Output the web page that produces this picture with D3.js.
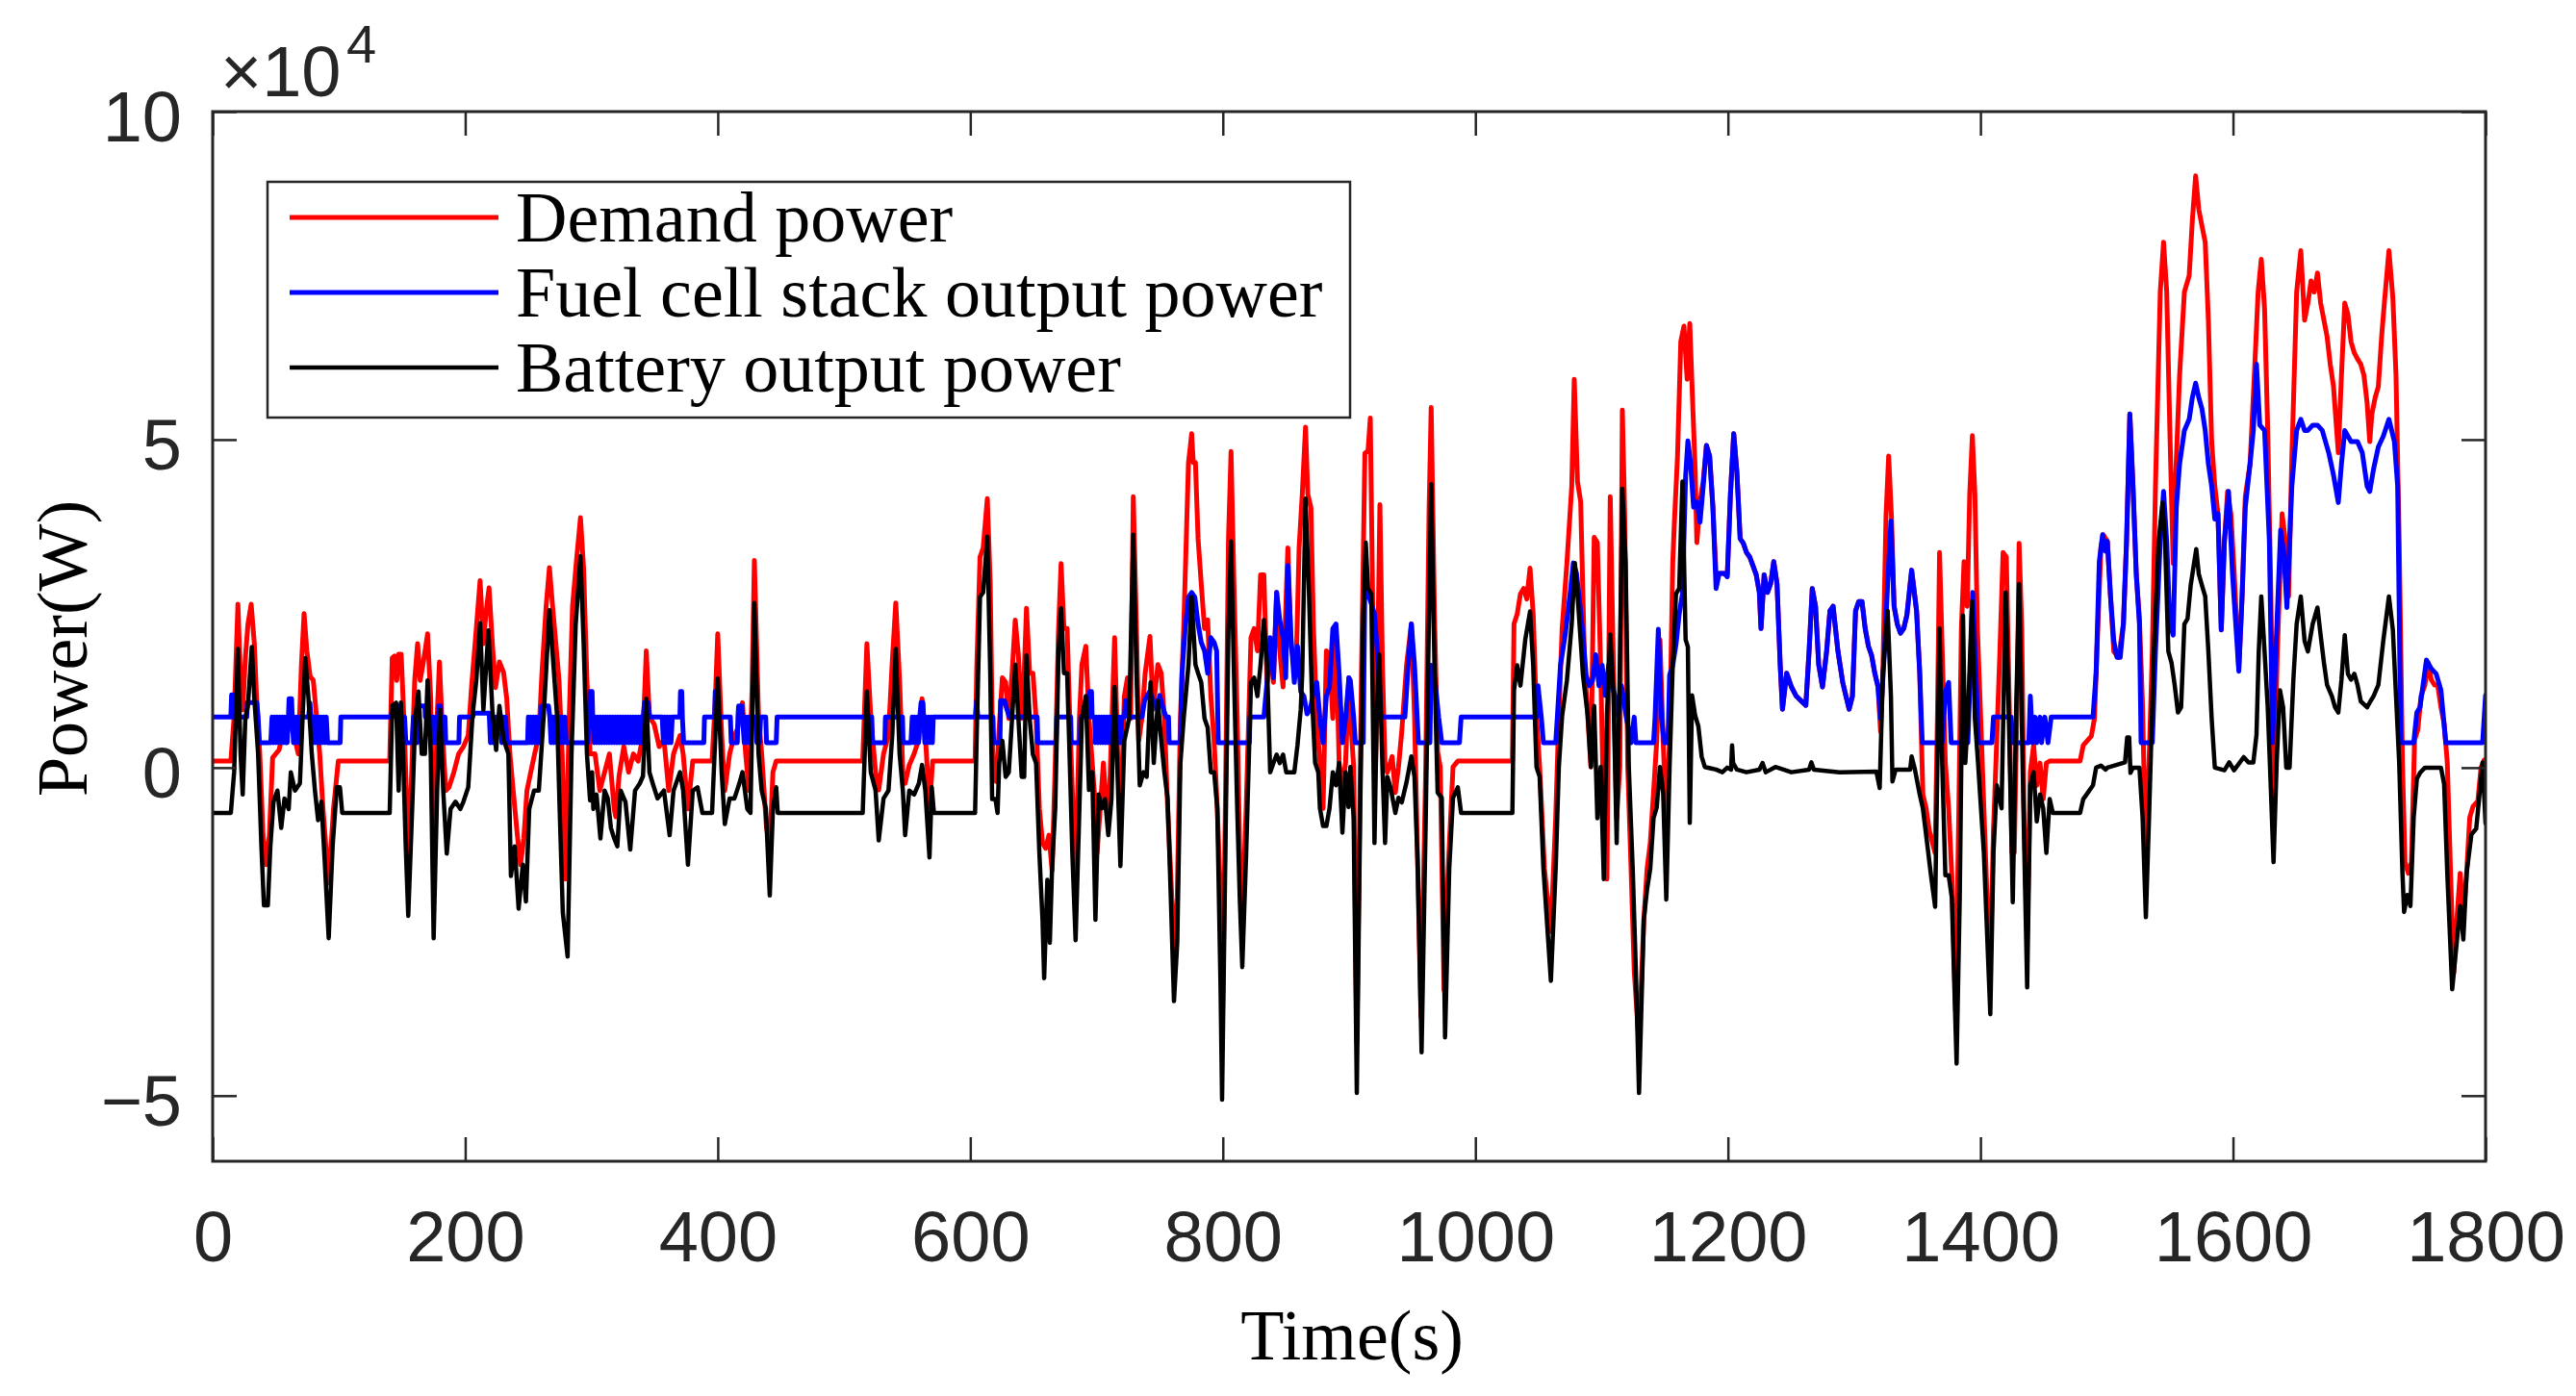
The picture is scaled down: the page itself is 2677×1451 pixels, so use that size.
<!DOCTYPE html>
<html><head><meta charset="utf-8">
<script src="https://cdn.jsdelivr.net/npm/d3@7"></script>
<style>html,body{margin:0;padding:0;background:#fff;} svg{display:block;}</style>
</head><body>
<svg id="chart" width="2677" height="1451"></svg>
<script>
// ---------- data (time in s, power in x10^4 W) ----------
const xTicks = [0,200,400,600,800,1000,1200,1400,1600,1800];
const yTicks = [-5,0,5,10];
const xDomain = [0,1800];
const yDomain = [-6,10];
const seriesNames = ["Demand power","Fuel cell stack output power","Battery output power"];
const seriesColors = ["#ff0000","#0000ff","#000000"];

const demandPower = [
[0,0.1],[14.4,0.1],[17,0.77],[20,2.49],[22.1,1.33],[23.8,0.88],[25.9,1.67],[27.9,2.18],[30.5,2.49],[33,1.89],[34.8,1.05],[37.3,0.21],[39.9,-1.03],[42.4,-1.48],[44.9,-1.03],[47.5,0.15],[50,0.21],[52.6,0.27],[55.1,0.49],[57.6,0.43],[60.2,0.6],[62.7,0.72],[65.2,0.43],[67.8,0.21],[70.3,1.56],[72.4,2.35],[74.6,1.78],[77.2,1.39],[79.7,1.33],[82.3,0.77],[84.8,0.21],[87.4,-0.63],[91.9,-1.76],[95.7,-0.63],[99.5,0.1],[140.2,0.1],[142.2,1.67],[144,1.7],[145.8,1.33],[147.3,1.73],[149.3,1.73],[151.4,0.77],[153.4,-0.35],[155.4,-1.4],[158,0.15],[160,1.33],[162.3,1.89],[164.3,1.33],[166.9,1.61],[170.2,2.04],[172.7,1.05],[175,-1.8],[177.8,0.77],[179.6,1.61],[182.1,0.49],[184.6,-0.35],[187.2,-0.3],[191,-0.07],[194.8,0.21],[198.6,0.32],[202.4,0.49],[205,1.22],[208.3,2.0],[211.8,2.85],[214.4,1.89],[216.4,2.35],[218.9,2.74],[221.5,1.89],[224,1.22],[227.1,1.61],[230.4,1.45],[232.9,1.05],[235.4,0.21],[238,-0.35],[241.3,-1.03],[243.8,-1.48],[246.4,-1.08],[248.9,-0.35],[251.9,-0.07],[255,0.21],[258.3,0.49],[260.8,1.45],[264.1,2.46],[266.7,3.05],[269.2,2.46],[271.8,1.89],[274.3,1.33],[276.8,0.21],[279.4,-1.7],[282.4,0.77],[285,2.46],[288,3.13],[291.3,3.81],[293.8,3.02],[296.4,1.33],[298.9,0.21],
[302.8,0.21],[306.6,-0.35],[310.4,-0.07],[314.2,0.21],[318,-0.63],[319.3,-0.75],[321.8,-0.13],[325.6,0.32],[329.4,-0.07],[333.2,0.21],[337,0.1],[340.8,0.49],[343.4,1.78],[345.9,0.77],[349.7,0.66],[353.6,0.32],[357.4,0.43],[361.2,-0.35],[365,0.21],[370.1,0.49],[372.6,0.21],[376.4,-0.63],[380.2,0.1],[395.5,0.1],[398,1.0],[400,2.04],[403.1,0.49],[405.6,-0.35],[409.4,0.21],[413.2,0.49],[415.8,0.6],[419.6,0.99],[422.1,0.21],[424.7,-0.35],[427.2,1.2],[429,3.16],[432.3,0.77],[434.8,0.21],[438.6,-0.92],[441.2,-1.2],[443.7,-0.07],[446.3,0.1],[514.8,0.1],[516.1,0.8],[518.1,1.89],[521.2,0.77],[525,-0.07],[527.5,-0.34],[531.3,0.21],[535.2,0.49],[538.2,1.61],[541,2.51],[544,1.33],[546.6,-0.07],[548.4,-0.24],[551.7,0.04],[555.5,0.21],[559.3,0.43],[561.8,1.05],[564.4,0.49],[567.7,-0.6],[570.2,0.1],[603.8,0.1],
[605.1,1.5],[607.7,3.21],[610.2,3.35],[613.5,4.10],[615.8,2.80],[617.8,0.07],[620.4,-0.21],[622.9,0.61],[625.4,1.37],[628,1.30],[630.5,0.75],[633.1,1.44],[635.6,2.25],[638.1,1.71],[640.7,0.75],[642.7,1.44],[644.5,2.43],[647,1.44],[649.6,1.44],[652.1,0.75],[654.7,-0.62],[657.2,-1.15],[659.7,-1.23],[662.3,-1.03],[664.8,-1.57],[667.3,0.07],[669.9,2.12],[671.9,3.11],[674.2,2.12],[676.7,2.12],[678.8,0.75],[681.3,-0.62],[683.4,-1.8],[686.4,0.75],[688.4,1.57],[691.5,1.85],[694,0.75],[696.6,0.07],[699.1,-0.62],[700.4,-1.3],[702.9,-0.62],[705.4,0.07],[708,-0.62],[710.5,-0.27],[714.3,1.98],[716.9,0.07],[718.9,-0.96],[722,1.09],[724.5,1.37],[727,0.75],[729.1,4.13],[731.6,2.12],[733.4,0.41],[735.9,0.75],[738.5,1.44],[742.3,2.0],[744.8,0.89],[748.6,1.57],[751.2,1.44],[753.7,0.75],[756.3,-0.62],[758.8,-1.64],[761.3,-2.8],[763.9,-1.98],[766.4,0.75],[769,2.12],[772.8,4.65],[774,4.85],[775.3,5.09],[776.6,4.65],[778.3,4.65],[780.4,3.49],[782.9,2.80],[785.5,2.12],[788,2.25],[790.5,1.09],[793.1,0.41],[795.6,-0.62],[798.2,-2.0],[799.4,-4.3],[802,-0.62],[804.5,3.49],[806.5,4.82],[808.8,2.80],[811.4,0.75],[813.4,-1.30],[815.4,-2.3],[818.5,-0.62],[822.3,1.98],[824.8,2.12],[827.4,1.78],[829.9,2.94],[832.5,2.94],[835,1.30],[837.5,1.78],[840.1,1.30],[842.6,2.67],[845.1,1.78],[847.7,1.23],[851.5,3.35],[854,1.85],[857.9,1.44],[860.4,3.35],[862.9,4.17],[865.5,5.19],[867.3,4.17],[869.8,3.96],[871.8,2.12],[874.4,0.75],[876.9,0.07],[879.4,-0.62],[882,1.78],[884.5,1.71],[887.1,0.75],[889.6,2.12],[892.1,0.07],[894.7,-0.27],[897.2,0.07],[899.8,1.37],[901,0.79],
[903.6,0.01],[906.1,-4.2],[909.9,1.56],[912.5,4.79],[915,4.83],[916.8,5.33],[918.8,2.34],[920.9,0.01],[922.6,1.56],[924.4,4.01],[926.4,1.56],[928.5,0.01],[930.3,-0.07],[934.1,0.17],[936.6,-0.38],[939.1,0.01],[941.7,0.55],[945.5,1.56],[949.3,2.19],[951.8,0.79],[954.4,-1.54],[956.9,-3.8],[960.7,0.01],[963.3,3.9],[965,5.49],[967.6,2.34],[970.1,0.24],[972.2,0.01],[975.2,-3.4],[978.5,-1.54],[982.3,0.01],[986.1,0.1],[1029.3,0.1],[1030.6,2.19],[1033.1,2.34],[1035.7,2.65],[1038.2,2.73],[1040.7,2.57],[1043.3,3.04],[1045.8,2.34],[1048.4,0.79],[1050.9,0.01],[1054.7,-1.54],[1059.8,-2.5],[1063.6,-0.77],[1066.1,0.79],[1068.7,2.11],[1072.5,3.12],[1076.3,4.28],[1078.3,5.92],[1080.9,4.36],[1083.4,4.05],[1086.5,1.56],[1089,0.79],[1091.5,0.01],[1094.1,3.51],[1096.6,3.43],[1099.2,1.56],[1101.7,-0.77],[1104.2,-1.7],[1106.8,4.13],[1109.3,1.56],[1111.9,-0.77],[1114.4,0.01],[1116.4,5.45],[1118.2,3.9],[1120.7,0.01],[1123.3,-1.54],[1125.8,-3.1],[1129.6,-4.2],[1133.4,-2.32],[1136,-1.54],[1138.5,-1.15],[1141.1,-0.38],[1143.6,0.4],[1146.2,1.95],[1148.7,0.4],[1151.2,-0.77],[1153.8,0.4],[1156.3,3.12],[1157.6,3.74],[1160.1,4.75],[1162.7,6.5],[1165.2,6.73],[1167.7,5.92],[1169.8,6.77],[1172.3,5.45],[1174.1,4.52],[1175.4,3.43],[1177.9,4.05],[1180.4,4.36],[1183,4.91],[1185.5,4.75],[1188.1,3.97],[1190.6,2.96],[1193.1,2.96],[1197,2.96],[1199.5,2.94],
[1202,4.17],[1204.6,5.09],[1207.1,4.51],[1209.7,3.49],[1212.2,3.42],[1214.7,3.28],[1217.3,3.21],[1219.8,3.08],[1222.4,2.94],[1224.9,2.67],[1226.2,2.12],[1228.7,2.94],[1231.3,2.67],[1233.8,2.80],[1236.3,3.14],[1238.9,2.80],[1241.4,1.57],[1243.2,0.89],[1246.5,1.44],[1250.3,1.23],[1254.1,1.09],[1257.9,1.02],[1261.7,0.95],[1264.3,1.78],[1266.8,2.73],[1269.4,2.46],[1271.9,1.57],[1274.9,1.23],[1278.2,1.78],[1280.8,2.39],[1283.3,2.46],[1287.1,1.78],[1290.9,1.30],[1293.5,1.09],[1296,0.89],[1298.6,1.09],[1301.1,2.39],[1303.6,2.53],[1306.2,2.53],[1308.7,2.12],[1311.3,1.85],[1313.8,1.71],[1316.3,1.44],[1318.9,1.23],[1320.9,0.55],[1322.7,1.44],[1325.2,3.83],[1327.3,4.75],[1329.5,3.83],[1331.6,2.46],[1334.1,2.19],[1336.7,2.05],[1339.2,2.12],[1341.7,2.32],[1345.5,3.01],[1349.4,2.39],[1351.9,1.44],[1354.4,-0.41],[1357,-0.62],[1359.5,-0.96],[1364.1,-1.3],[1365.9,0.75],[1367.6,3.28],[1370.2,1.44],[1372.2,0.07],[1374.8,-0.62],[1377.3,-1.64],[1380.3,-3.7],[1382.9,-0.62],[1384.9,2.12],[1387,3.14],[1389.5,2.46],[1391.5,4.17],[1393.6,5.06],[1395.6,4.17],[1397.6,2.12],[1400.2,0.75],[1402.7,-0.62],[1405.2,-1.98],[1407.8,-3.0],[1410.3,-0.96],[1412.9,0.41],[1415.4,1.78],[1417.9,3.28],[1420.5,3.21],[1423,0.75],[1425,-1.3],[1426.8,-1.3],[1429.4,1.44],[1430.6,3.42],[1432.7,2.12],[1434.4,-0.62],[1437,-2.6],[1439.5,-0.07],[1442.1,0.34],[1444.6,-0.27],[1447.2,0.07],[1449.7,-0.48],[1452.2,0.07],[1454.8,0.1],[1478.9,0.1],[1481.4,0.34],[1487.8,0.48],[1490.3,0.75],[1492.9,2.12],[1495.4,3.35],[1497.2,3.55],
[1500.5,3.45],[1503,2.61],[1505.6,1.77],[1509.4,1.68],[1513.2,2.19],[1515.7,3.45],[1518.3,5.39],[1520.8,4.29],[1523.4,2.95],[1525.9,2.27],[1528.4,0.92],[1531,-1.44],[1533.5,0.08],[1536.1,1.77],[1538.6,4.29],[1542.4,7.25],[1545,8.01],[1547.5,7.25],[1550,5.14],[1552.6,3.11],[1554.3,4.29],[1557.7,5.98],[1561.5,7.25],[1565.3,7.5],[1567.8,8.34],[1570.4,9.02],[1572.9,8.51],[1575.4,8.26],[1578,8.01],[1580.5,6.82],[1583.1,4.97],[1585.6,4.29],[1588.1,3.87],[1590.7,2.10],[1593.2,3.45],[1595.7,4.21],[1598.3,3.87],[1600.8,3.03],[1604.6,1.51],[1607.2,2.61],[1609.7,4.13],[1613.5,4.63],[1617.3,6.15],[1619.9,7.25],[1622.4,7.75],[1625,7.0],[1627.5,5.14],[1630,2.61],[1632.1,-0.6],[1635.1,1.77],[1638.9,3.87],[1641.5,3.45],[1644,2.61],[1646.6,4.72],[1650.4,7.25],[1653.7,7.88],[1656.7,6.82],[1659.3,7.08],[1661.8,7.42],[1664.3,7.25],[1666.9,7.54],[1669.4,7.08],[1672,6.82],[1674.5,6.57],[1677,6.15],[1679.6,5.81],[1682.1,5.14],[1683.4,4.8],[1685.9,5.98],[1688.5,7.08],[1691,6.91],[1693.5,6.49],[1696.1,6.32],[1698.6,6.23],[1701.2,6.15],[1703.7,5.98],[1706.2,5.56],[1708.3,4.97],[1710,5.39],[1712.6,5.64],[1715.1,5.81],[1717.7,6.57],[1720.2,7.16],[1723.5,7.88],[1726.6,7.16],[1729.1,5.98],[1731.6,3.45],[1734.2,0.08],[1736.2,-1.44],[1738.8,-1.61],[1741.3,-1.44],[1743.8,0.42],[1746.4,0.58],[1748.9,1.09],[1752,1.26],[1754.5,1.60],[1757,1.34],[1759.6,1.26],[1762.1,1.26],[1764.7,0.92],[1767.2,0.67],[1769.7,0.08],[1772.3,-1.61],[1774.8,-3.13],[1777.4,-2.28],[1779.9,-1.61],[1782.4,-2.28],[1785,-1.61],[1787.5,-0.76],[1790.1,-0.59],[1793.9,-0.51],[1796.4,0.0],[1799,0.12],[1800,0.12]
];

const fuelCellPower = [
[0,0.77],[14.4,0.77],[15,1.11],[16.5,1.11],[17,0.77],[27,0.77],[27.5,0.99],[35,0.99],[36,0.77],[37,0.38],[46,0.38],[47,0.77],[48,0.38],[49,0.77],[50,0.38],[51,0.77],[52,0.38],[53,0.77],[54,0.38],[55,0.77],[56,0.38],[57,0.77],[58,0.38],[59,0.38],[60,0.77],[60.5,1.05],[62.5,1.05],[63,0.77],[64,0.38],[65,0.77],[66,0.38],[67,0.77],[68,0.38],[69,0.77],[76,0.77],[77,0.99],[78,0.77],[79,0.38],[80,0.77],[81,0.38],[82,0.77],[83,0.38],[84,0.77],[85,0.38],[86,0.77],[87,0.38],[88,0.77],[89,0.38],[90,0.77],[91,0.38],[101,0.38],[101.5,0.77],[141.5,0.77],[142.5,0.94],[144,0.94],[144.5,0.77],[146,0.77],[146.5,0.94],[148,0.94],[149,0.38],[150,0.77],[151,0.38],[152,0.77],[153,0.38],[158,0.38],[159,0.77],[160,0.38],[161,0.77],[162,0.38],[163,0.77],[163.5,0.94],[168,0.94],[168.5,0.77],[173,0.77],[174,0.38],[175,0.77],[176,0.38],[177,0.77],[178,0.38],[179,0.94],[180.5,0.94],[181,0.38],[182,0.77],[183,0.38],[184,0.77],[184.6,0.38],[195,0.38],[195.5,0.77],[206,0.77],[206.5,0.83],[219,0.83],[220,0.38],[221,0.77],[222,0.38],[223,0.77],[224,0.38],[225,0.77],[228,0.77],[229,0.38],[230,0.77],[231,0.38],[232,0.77],[233,0.38],[249.4,0.38],[250,0.77],[251,0.38],[252,0.77],[253,0.38],[254,0.77],[255,0.38],[256,0.77],[257,0.38],[258,0.77],[259,0.38],[260,0.77],[260.5,0.94],[266,0.94],[267,0.77],[268,0.38],[269,0.77],[270,0.38],[271,0.77],[272,0.38],[273,0.77],[274,0.38],[275,0.77],[276,0.38],[277,0.77],[278,0.38],[279,0.77],[280,0.38],[297,0.38],[298,0.77],[299,1.16],[300.5,1.16],[301,0.77],
[302,0.38],[303,0.77],[304,0.38],[305,0.77],[306,0.38],[307,0.77],[308,0.38],[309,0.77],[310,0.38],[311,0.77],[312,0.38],[313,0.77],[314,0.38],[315,0.77],[316,0.38],[317,0.77],[318,0.38],[319,0.77],[320,0.38],[321,0.77],[322,0.38],[323,0.77],[324,0.38],[325,0.77],[326,0.38],[327,0.77],[328,0.38],[329,0.77],[330,0.38],[331,0.77],[332,0.38],[333,0.77],[334,0.38],[335,0.77],[336,0.38],[337,0.77],[338,0.38],[339,0.77],[340,0.38],[341,0.77],[342,0.99],[345,0.99],[346,0.77],[356,0.77],[357,0.38],[358,0.77],[359,0.38],[360,0.77],[361,0.38],[362,0.77],[363,0.38],[364,0.77],[370,0.77],[370.5,1.16],[371.5,1.16],[372,0.77],[373,0.38],[389,0.38],[389.5,0.77],[397.5,0.77],[398,1.16],[399.5,1.16],[400,0.77],[410,0.77],[410.7,0.38],[415.5,0.38],[416,0.77],[416.5,0.94],[419,0.94],[419.6,0.77],[421,0.38],[422,0.77],[423,0.38],[424,0.77],[425,0.38],[426,0.77],[430,0.77],[431,0.38],[432,0.77],[433,0.38],[434,0.77],[438,0.77],[438.6,0.38],[446.3,0.38],[447,0.77],[522,0.77],[522.5,0.38],[532.3,0.38],[532.8,0.77],[546.3,0.77],[546.8,0.38],[553,0.38],[554,0.77],[555,0.38],[556,0.77],[557,0.38],[558,0.77],[559,0.38],[560,0.77],[561,0.99],[562.5,0.99],[563,0.77],[564,0.38],[565,0.77],[566,0.38],[567,0.77],[568,0.38],[569,0.77],[570,0.38],[570.7,0.77],[601,0.77],
[604,0.77],[605,1.02],[606,0.77],[618,0.77],[618.5,0.38],[623.5,0.38],[624,1.02],[627,1.02],[629,0.89],[631,0.77],[653,0.77],[653.5,0.38],[668,0.38],[668.5,0.77],[679.5,0.77],[680,0.38],[687,0.38],[687.5,0.77],[693.5,0.77],[694.5,1.16],[696,1.16],[696.5,0.77],[698.5,0.77],[699,0.38],[700,0.77],[701,0.38],[702,0.77],[703,0.38],[704,0.77],[705,0.38],[706,0.77],[707,0.38],[708,0.77],[709,0.38],[710,0.77],[711,0.38],[712,0.77],[713,0.38],[714,0.77],[715,0.38],[716,0.77],[717,0.38],[718,0.77],[719,0.38],[720,0.77],[722,0.77],[723,1.02],[725,1.02],[725.5,0.77],[736,0.77],[738,1.02],[742,1.16],[745,1.02],[748,0.89],[750,1.10],[753,0.89],[755,0.77],[757,0.77],[757.5,0.38],[766.4,0.38],[767.7,1.44],[770.2,2.12],[772.8,2.60],[775.3,2.67],[777.8,2.60],[780.4,2.19],[782.9,1.91],[785.5,1.78],[788,1.44],[790.5,1.98],[793.1,1.91],[795.1,1.78],[796.4,0.38],[821,0.38],[821.5,0.77],[832.5,0.77],[835,1.30],[837.5,1.98],[840.1,1.37],[842.6,2.67],[845.1,2.25],[847.7,1.98],[849.8,1.37],[851.5,3.08],[854,1.98],[856.6,1.30],[859.1,1.85],[861.7,1.16],[864.2,1.09],[866.7,0.82],[869.3,0.89],[871.8,1.16],[874.4,1.30],[876.9,0.75],[879.4,0.38],[882,1.09],[884.5,1.23],[887.1,2.12],[889.6,2.19],[892.1,1.44],[894.7,0.38],[897.2,0.75],[899.8,1.37],
[901,1.33],[903.6,0.77],[904.9,0.38],[911.2,0.38],[912.5,2.81],[915,2.65],[917.6,2.50],[920.1,2.34],[922.6,1.72],[925.2,0.77],[944.2,0.77],[946.8,1.56],[949.3,2.19],[951.8,1.56],[953.9,0.77],[954.9,0.38],[964,0.38],[965,1.56],[967.6,1.41],[970.9,0.77],[973.4,0.38],[987.4,0.38],[988.7,0.77],[1048.4,0.77],[1049.6,1.25],[1052.2,0.77],[1053.9,0.38],[1063.6,0.38],[1064.9,0.77],[1067.4,1.56],[1071.2,2.03],[1075,2.65],[1077.6,3.12],[1080.1,2.96],[1082.7,2.50],[1085.2,2.03],[1087.7,1.41],[1090.3,1.25],[1092.8,1.33],[1095.3,1.72],[1097.9,1.25],[1100.4,1.56],[1103,1.10],[1105.5,1.56],[1108,1.25],[1110.6,1.10],[1113.1,0.79],[1115.7,1.25],[1119.5,0.77],[1123.3,0.38],[1125.8,0.77],[1127.1,0.38],[1141.1,0.38],[1142.3,0.77],[1144.9,2.11],[1147.4,0.77],[1149.5,0.38],[1152.5,0.38],[1153.8,1.41],[1156.3,1.56],[1158.9,1.88],[1161.4,2.34],[1164,2.65],[1166.5,4.44],[1168.3,4.98],[1170.3,4.67],[1172.8,3.97],[1175.4,4.05],[1177.9,3.74],[1180.4,4.28],[1183,4.91],[1185.5,4.75],[1188.1,3.97],[1190.6,2.73],[1193.1,2.96],[1197,2.96],[1199.5,2.91],
[1202,4.17],[1204.6,5.09],[1207.1,4.51],[1209.7,3.49],[1212.2,3.42],[1214.7,3.28],[1217.3,3.21],[1219.8,3.08],[1222.4,2.94],[1224.9,2.67],[1226.2,2.12],[1228.7,2.94],[1231.3,2.67],[1233.8,2.80],[1236.3,3.14],[1238.9,2.80],[1241.4,1.57],[1243.2,0.89],[1246.5,1.44],[1250.3,1.23],[1254.1,1.09],[1257.9,1.02],[1261.7,0.95],[1264.3,1.78],[1266.8,2.73],[1269.4,2.46],[1271.9,1.57],[1274.9,1.23],[1278.2,1.78],[1280.8,2.39],[1283.3,2.46],[1287.1,1.78],[1290.9,1.30],[1293.5,1.09],[1296,0.89],[1298.6,1.09],[1301.1,2.39],[1303.6,2.53],[1306.2,2.53],[1308.7,2.12],[1311.3,1.85],[1313.8,1.71],[1316.3,1.44],[1318.9,1.23],[1320.9,0.75],[1324,1.78],[1326.5,2.80],[1329.1,3.76],[1331.6,2.46],[1334.1,2.19],[1336.7,2.05],[1339.2,2.12],[1341.7,2.32],[1345.5,3.01],[1349.4,2.39],[1351.9,1.44],[1353.9,0.38],[1369.7,0.38],[1372.2,1.16],[1374.8,1.30],[1376.8,0.38],[1390,0.38],[1391.3,1.09],[1393.8,2.67],[1396.4,1.44],[1398.4,0.38],[1409.1,0.38],[1410.3,0.77],[1424.3,0.77],[1425.6,0.38],[1438.3,0.38],[1439.5,1.09],[1441.3,0.38],[1443.3,0.77],[1444.6,0.38],[1447.2,0.77],[1448.4,0.38],[1451,0.77],[1453.5,0.38],[1456,0.77],[1489.1,0.77],[1491.6,1.44],[1494.1,3.14],[1496.7,3.55],[1499,3.3],
[1500.5,3.45],[1503,2.61],[1505.6,1.93],[1508.1,1.68],[1510.7,1.68],[1513.2,2.19],[1515.7,3.45],[1518.3,5.39],[1520.8,4.29],[1523.4,2.95],[1525.9,2.19],[1527.2,0.38],[1536.1,0.38],[1538.6,1.77],[1542.4,3.45],[1545,4.21],[1547.5,3.45],[1550,2.19],[1552.6,2.02],[1555.1,3.96],[1557.7,4.63],[1561.5,5.14],[1565.3,5.31],[1567.8,5.64],[1570.4,5.86],[1572.9,5.64],[1575.4,5.47],[1578,5.14],[1580.5,4.63],[1583.1,4.29],[1585.6,3.79],[1588.1,3.87],[1590.7,2.10],[1593.2,3.45],[1596.5,4.21],[1599.6,2.95],[1604.6,1.47],[1607.2,2.61],[1609.7,3.96],[1613.5,4.63],[1616.1,5.14],[1618.6,6.15],[1621.2,5.22],[1625,5.14],[1628.8,3.45],[1631.3,0.38],[1633.9,1.77],[1637.7,3.62],[1640.2,3.28],[1642.7,2.44],[1646.6,4.29],[1650.4,5.14],[1653.7,5.31],[1656.7,5.14],[1659.3,5.14],[1663.1,5.22],[1666.9,5.22],[1670.7,5.14],[1675.8,4.80],[1679.6,4.46],[1683.4,4.04],[1685.9,4.63],[1688.5,5.14],[1693.5,4.97],[1698.6,4.97],[1702.4,4.80],[1706.2,4.29],[1708.3,4.21],[1711.3,4.55],[1715.1,4.89],[1719,5.05],[1723.5,5.31],[1727.8,4.97],[1730.4,4.29],[1732.9,0.38],[1743.1,0.38],[1745.6,0.84],[1748.1,0.92],[1753.2,1.64],[1757,1.51],[1760.9,1.43],[1764.7,1.18],[1768.5,0.38],[1797.7,0.38],[1800,1.1]
];

const batteryPower = [
[0,-0.69],[14.4,-0.69],[17,-0.07],[20,1.81],[22.1,0.21],[23.8,-0.41],[25.9,0.77],[27.9,0.94],[31,1.84],[33,1.05],[36,0.21],[38.6,-1.2],[40.6,-2.1],[43.7,-2.1],[45.7,-1.2],[48.2,-0.52],[51.3,-0.35],[54.3,-0.92],[56.9,-0.47],[60.2,-0.63],[61.9,-0.07],[65.2,-0.35],[69.1,-0.24],[71.6,0.94],[73.4,1.67],[75.9,1.05],[78.5,0.21],[81,-0.35],[83.5,-0.80],[86.1,-0.52],[88.9,-1.48],[91.9,-2.6],[95,-1.2],[98.3,-0.3],[100.8,-0.3],[102.6,-0.69],[140.2,-0.69],[142.2,0.94],[145.3,0.99],[147.3,-0.35],[149.1,0.99],[150.8,0.21],[152.9,-1.2],[154.9,-2.26],[158,-0.63],[160.5,0.77],[163,1.16],[165.6,0.21],[168.1,0.21],[170.2,1.33],[172.7,0.21],[175,-2.6],[177.8,-0.35],[180.1,0.88],[182.6,-0.35],[185.4,-1.31],[188.4,-0.63],[192.3,-0.52],[196.1,-0.63],[198.6,-0.52],[202.4,-0.30],[205.7,0.77],[208.8,1.33],[211.8,2.2],[214.4,0.88],[218.4,2.09],[221.5,0.88],[224.5,0.27],[227.1,0.94],[230.4,0.43],[234.2,0.21],[236.2,-1.65],[239.2,-1.2],[242.3,-2.15],[245.6,-1.48],[248.1,-2.04],[250.7,-0.63],[254.5,-0.35],[258.3,-0.35],[262.1,0.77],[266.7,2.4],[269.7,1.61],[272.8,0.77],[274.8,-0.63],[277.3,-2.21],[281.1,-2.88],[284.2,0.21],[287.5,2.18],[291.3,3.22],[293.8,1.89],[296.4,0.21],[298.9,-0.5],
[300.5,-0.07],[301.5,-0.63],[304,-0.41],[307.1,-1.08],[310.4,-0.35],[312.9,-0.47],[315.4,-0.92],[318,-1.08],[320.5,-1.2],[323.1,-0.35],[326.9,-0.52],[330.7,-1.25],[334.5,-0.35],[338.3,-0.24],[340.8,-0.13],[343.4,1.05],[345.9,-0.07],[348.5,-0.24],[352.3,-0.47],[357.4,-0.35],[361.9,-1.03],[365,-0.35],[370.1,-0.07],[372.6,-0.35],[376.4,-1.48],[380.2,-0.35],[384,-0.30],[387.8,-0.69],[395.5,-0.69],[400,1.36],[403.1,-0.07],[405.6,-0.86],[409.4,-0.47],[413.2,-0.47],[417.1,-0.24],[419.6,-0.07],[423.4,-0.63],[425.9,-0.69],[429,2.51],[432.3,0.21],[434.8,-0.35],[438.1,-0.63],[441.2,-1.95],[443.7,-0.63],[446.3,-0.30],[447.5,-0.69],[514.8,-0.69],[518.1,1.16],[521.2,-0.07],[525,-0.35],[527.5,-1.11],[531.3,-0.47],[535.2,-0.35],[538.2,0.49],[541,1.81],[544,0.21],[546.6,-0.35],[548.4,-1.03],[551.7,-0.35],[555.5,-0.41],[559.3,-0.24],[561.8,0.04],[564.4,-0.35],[567.7,-1.37],[569.5,-0.30],[571.2,-0.69],[603.8,-0.69],
[605.1,0.5],[607.7,2.60],[610.2,2.67],[613.5,3.52],[615.8,1.44],[617.3,-0.48],[619.9,-0.48],[621.6,-0.69],[622.9,0.07],[625.4,0.41],[628,-0.14],[630.5,-0.07],[633.1,0.75],[635.6,1.57],[638.1,0.75],[640.7,-0.14],[642.7,-0.14],[644.5,1.71],[647,0.75],[649.6,0.20],[652.1,0.07],[654.7,-1.30],[657.2,-2.32],[658.5,-3.21],[661,-1.71],[663,-2.67],[664.8,-1.50],[667.3,-0.62],[669.9,1.78],[671.9,2.43],[674.2,1.44],[676.7,1.44],[678.8,0.07],[680.8,-1.30],[683.4,-2.63],[685.9,-0.96],[688.4,0.75],[691.5,1.09],[694,-0.34],[696.6,-0.07],[699.1,-2.32],[701.6,-0.41],[704.2,-0.62],[706.7,-0.48],[709.3,-1.03],[711.8,-0.48],[714.3,1.23],[716.9,-0.27],[718.9,-1.50],[722,0.41],[725.8,0.75],[729.1,3.55],[731.6,1.44],[734.2,-0.27],[737.2,-0.07],[739.7,-0.14],[742.8,1.30],[745.3,0.07],[748.6,1.02],[751.2,0.41],[753.7,-0.07],[756.3,-0.48],[758.8,-1.98],[761.3,-3.56],[763.9,-2.67],[766.4,0.07],[769,0.75],[772.8,1.57],[775.3,2.60],[778.3,1.57],[780.4,1.44],[782.9,1.30],[785.5,0.75],[788,0.61],[790.5,-0.07],[793.1,-0.07],[795.6,-0.62],[798.2,-3.35],[799.4,-5.06],[802,-1.30],[804.5,2.12],[806.5,3.45],[808.8,1.44],[811.4,-0.62],[813.4,-1.98],[815.4,-3.04],[818.5,-1.30],[822.3,1.30],[824.8,1.37],[827.4,1.09],[829.9,1.57],[832.5,2.25],[835,1.57],[837.5,-0.07],[840.1,0.07],[842.6,0.20],[845.1,0.07],[847.7,0.20],[850.2,-0.07],[856.6,-0.07],[859.1,0.34],[861.7,0.89],[862.9,1.44],[865.5,4.10],[868,2.80],[870.6,1.09],[873.1,0.07],[875.6,-0.07],[876.9,-0.62],[879.4,-0.89],[882,-0.89],[884.5,-0.62],[887.1,-0.07],[889.6,-0.27],[892.1,0.07],[894.7,-0.99],[897.2,-0.07],
[899.5,-0.6],[901,0.01],[903.6,-0.77],[906.1,-4.96],[908.7,-0.77],[911.2,2.34],[913.2,3.43],[915,2.73],[917.6,2.65],[920.1,-1.15],[921.9,0.79],[923.9,1.72],[926.4,0.01],[928.5,-1.15],[930.3,-0.14],[932.8,-0.30],[936.6,-0.69],[939.1,-0.46],[941.7,-0.53],[945.5,-0.22],[949.3,0.17],[951.8,-0.14],[954.4,-1.54],[957.4,-4.34],[960.7,-0.77],[963.3,2.34],[965,4.32],[967.6,1.56],[970.1,-0.38],[973.4,-0.46],[976,-4.11],[979.3,-1.54],[982.3,-0.46],[986.1,-0.30],[988.7,-0.69],[1029.3,-0.69],[1030.6,1.18],[1033.1,1.56],[1035.7,1.25],[1039.5,1.95],[1043.3,2.38],[1045.8,1.56],[1048.4,0.01],[1050.9,-0.14],[1053.9,-1.54],[1059.8,-3.25],[1063.6,-1.54],[1066.1,0.01],[1068.7,0.79],[1072.5,1.33],[1076.3,2.19],[1078.8,3.12],[1081.4,2.50],[1085.2,1.41],[1089,0.79],[1091.5,0.01],[1094.1,0.94],[1096.6,-0.77],[1099.2,0.01],[1101.7,-1.70],[1104.2,0.79],[1106.8,2.03],[1109.3,1.18],[1111.9,-1.15],[1114.4,1.56],[1116.4,4.25],[1119,3.12],[1121.5,0.01],[1124.6,-1.54],[1127.1,-3.10],[1129.6,-4.96],[1133.4,-2.32],[1136,-1.85],[1138.5,-1.54],[1141.1,-0.77],[1143.6,-0.61],[1146.2,0.01],[1148.7,-0.38],[1151.2,-2.01],[1153.8,0.01],[1156.3,1.56],[1158.9,2.65],[1161.4,2.73],[1164,4.36],[1166.5,1.95],[1168.3,1.84],[1169.8,-0.84],[1171.6,1.10],[1174.1,0.79],[1176.6,0.63],[1179.2,0.17],[1181.7,0.01],[1190.6,-0.03],[1195.6,-0.07],[1199.5,0.0],
[1202.5,-0.03],[1203.3,0.34],[1204.1,0.07],[1207.1,-0.03],[1214.7,-0.07],[1224.9,-0.03],[1227.4,0.07],[1230,-0.07],[1237.6,0.01],[1250.3,-0.07],[1264.3,-0.03],[1266.1,0.08],[1268.1,-0.03],[1288.4,-0.07],[1317.6,-0.06],[1320.2,-0.31],[1322.7,1.44],[1326.5,2.39],[1329.1,1.09],[1330.3,-0.21],[1332.8,-0.03],[1344.3,-0.03],[1345.5,0.17],[1348.1,-0.03],[1351.9,-0.41],[1354.4,-0.62],[1357,-1.03],[1360.8,-1.64],[1364.1,-2.12],[1365.9,0.07],[1367.6,2.12],[1369.7,0.07],[1372.2,-1.64],[1374.8,-1.64],[1377.3,-1.98],[1381.1,-4.51],[1383.6,-1.98],[1386.2,2.32],[1388,0.07],[1390,0.75],[1393.3,2.53],[1395.6,0.75],[1398.1,0.07],[1402.7,-1.30],[1407.8,-3.76],[1410.3,-1.30],[1412.9,-0.27],[1416.7,-0.62],[1420,2.67],[1422.5,0.75],[1425.6,-2.05],[1428.1,0.75],[1430.6,2.8],[1432.7,0.75],[1434.4,-0.96],[1437,-3.35],[1439.5,-0.27],[1442.1,-0.07],[1444.6,-0.82],[1447.2,-0.41],[1449.7,-0.62],[1452.2,-1.3],[1454.8,-0.48],[1457.3,-0.69],[1478.9,-0.69],[1481.4,-0.48],[1484,-0.41],[1489.1,-0.27],[1491.6,0.0],[1495.4,0.03],[1499.2,-0.03],
[1500.5,0.0],[1514.5,0.08],[1516.2,0.46],[1517.8,0.46],[1518.8,-0.08],[1520.8,0.0],[1525.9,0.0],[1528.4,-0.76],[1531,-2.28],[1533.5,-0.76],[1537.3,1.77],[1541.1,3.45],[1544.2,4.04],[1546.2,3.45],[1548.8,1.77],[1551.3,1.60],[1553.8,1.26],[1556.4,0.84],[1558.9,0.92],[1561.5,2.19],[1564,2.27],[1566.5,2.78],[1569.1,3.11],[1570.9,3.33],[1572.9,2.95],[1575.4,2.78],[1578,2.61],[1580.5,1.77],[1583.1,0.75],[1585.6,0.0],[1593.2,-0.04],[1597,0.08],[1600.8,-0.04],[1608.5,0.16],[1612.3,0.08],[1616.1,0.08],[1618.6,0.5],[1620.4,1.77],[1622.4,2.61],[1625,1.77],[1627.5,0.92],[1630,-0.34],[1632.1,-1.44],[1634.6,0.08],[1637.2,1.18],[1639.7,0.92],[1642.2,0.0],[1644.8,0.0],[1647.8,1.34],[1650.4,2.19],[1653.7,2.61],[1656.7,1.93],[1659.3,1.77],[1663.1,2.19],[1666.9,2.44],[1669.4,2.02],[1672,1.60],[1674.5,1.26],[1678.3,1.09],[1680.8,0.92],[1683.4,0.84],[1685.9,1.34],[1688.5,2.02],[1691,1.43],[1693.5,1.34],[1696.1,1.43],[1698.6,1.26],[1701.2,1.01],[1706.2,0.92],[1708.8,1.01],[1711.3,1.09],[1715.1,1.26],[1719,1.93],[1723.5,2.61],[1726.6,2.10],[1729.1,1.09],[1731.6,0.08],[1734.2,-1.61],[1735.5,-2.2],[1738,-1.94],[1740.5,-2.11],[1743.1,-0.76],[1745.6,-0.17],[1748.1,-0.08],[1752,0.0],[1764.7,0.0],[1767.2,-0.25],[1769.7,-1.61],[1773.6,-3.38],[1777.4,-2.62],[1779.9,-2.11],[1782.4,-2.62],[1785,-1.61],[1788.8,-1.02],[1792.6,-0.93],[1795.1,-0.43],[1797.7,0.08],[1800,-0.85]
];

// ---------- drawing ----------
const svg = d3.select("#chart");
const plot = {left:221, right:2583, top:116, bottom:1207};
const axisColor = "#262626";
const sansFont = "'Liberation Sans', Arial, Helvetica, sans-serif";
const serifFont = "'Liberation Serif', 'Times New Roman', serif";
const seriesWidths = [5, 5, 4.5];

svg.append("rect").attr("x",0).attr("y",0).attr("width",2677).attr("height",1451).attr("fill","#ffffff");

const x = d3.scaleLinear().domain(xDomain).range([plot.left, plot.right]);
const y = d3.scaleLinear().domain(yDomain).range([plot.bottom, plot.top]);

svg.append("defs").append("clipPath").attr("id","plotClip")
  .append("rect").attr("x",plot.left).attr("y",plot.top)
  .attr("width",plot.right-plot.left).attr("height",plot.bottom-plot.top);

const line = d3.line().x(d => x(d[0])).y(d => y(d[1]));
const lineGroup = svg.append("g").attr("clip-path","url(#plotClip)");
[demandPower, fuelCellPower, batteryPower].forEach((data,i) => {
  lineGroup.append("path").datum(data)
    .attr("d", line)
    .attr("fill","none")
    .attr("stroke", seriesColors[i])
    .attr("stroke-width", seriesWidths[i])
    .attr("stroke-linejoin","round")
    .attr("stroke-linecap","round");
});

// axes (ticks inward on all four sides)
const tickLen = 25;
function styleAxis(g){
  g.select(".domain").remove();
  g.selectAll(".tick line").attr("stroke",axisColor).attr("stroke-width",2.5);
  g.selectAll(".tick text").attr("fill",axisColor).attr("font-family",sansFont).attr("font-size",74);
}
svg.append("g").attr("transform",`translate(0,${plot.bottom})`)
  .call(d3.axisBottom(x).tickValues(xTicks).tickSizeInner(-tickLen).tickSizeOuter(0).tickPadding(51).tickFormat(d3.format("d")))
  .call(styleAxis);
svg.append("g").attr("transform",`translate(0,${plot.top})`)
  .call(d3.axisTop(x).tickValues(xTicks).tickSizeInner(-tickLen).tickSizeOuter(0).tickFormat(""))
  .call(styleAxis);
const yAxisG = svg.append("g").attr("transform",`translate(${plot.left},0)`)
  .call(d3.axisLeft(y).tickValues(yTicks).tickSizeInner(-tickLen).tickSizeOuter(0).tickPadding(32).tickFormat(d3.format("d")))
  .call(styleAxis);
yAxisG.selectAll(".tick text").attr("dy","0.41em");
svg.append("g").attr("transform",`translate(${plot.right},0)`)
  .call(d3.axisRight(y).tickValues(yTicks).tickSizeInner(-tickLen).tickSizeOuter(0).tickFormat(""))
  .call(styleAxis);

// frame
svg.append("rect").attr("x",plot.left).attr("y",plot.top)
  .attr("width",plot.right-plot.left).attr("height",plot.bottom-plot.top)
  .attr("fill","none").attr("stroke",axisColor).attr("stroke-width",3);

// exponent label
svg.append("text").attr("x",229).attr("y",100).attr("font-family",sansFont).attr("font-size",74)
  .attr("fill",axisColor).text("\u00d710");
svg.append("text").attr("x",360).attr("y",65).attr("font-family",sansFont).attr("font-size",56)
  .attr("fill",axisColor).text("4");

// axis titles
svg.append("text").attr("x",1405).attr("y",1413).attr("text-anchor","middle")
  .attr("font-family",serifFont).attr("font-size",74).attr("fill","#000").text("Time(s)");
svg.append("text").attr("transform","translate(90,674) rotate(-90)").attr("text-anchor","middle")
  .attr("font-family",serifFont).attr("font-size",74).attr("fill","#000").text("Power(W)");

// legend
const legend = svg.append("g");
legend.append("rect").attr("x",278).attr("y",189).attr("width",1125).attr("height",245)
  .attr("fill","#ffffff").attr("stroke",axisColor).attr("stroke-width",2.5);
const legendRowY = [226,304,382];
seriesNames.forEach((name,i) => {
  legend.append("line").attr("x1",301).attr("x2",518).attr("y1",legendRowY[i]).attr("y2",legendRowY[i])
    .attr("stroke",seriesColors[i]).attr("stroke-width",seriesWidths[i]);
  legend.append("text").attr("x",536).attr("y",legendRowY[i]+24.5)
    .attr("font-family",serifFont).attr("font-size",74).attr("fill","#000").text(name);
});
</script>
</body></html>
